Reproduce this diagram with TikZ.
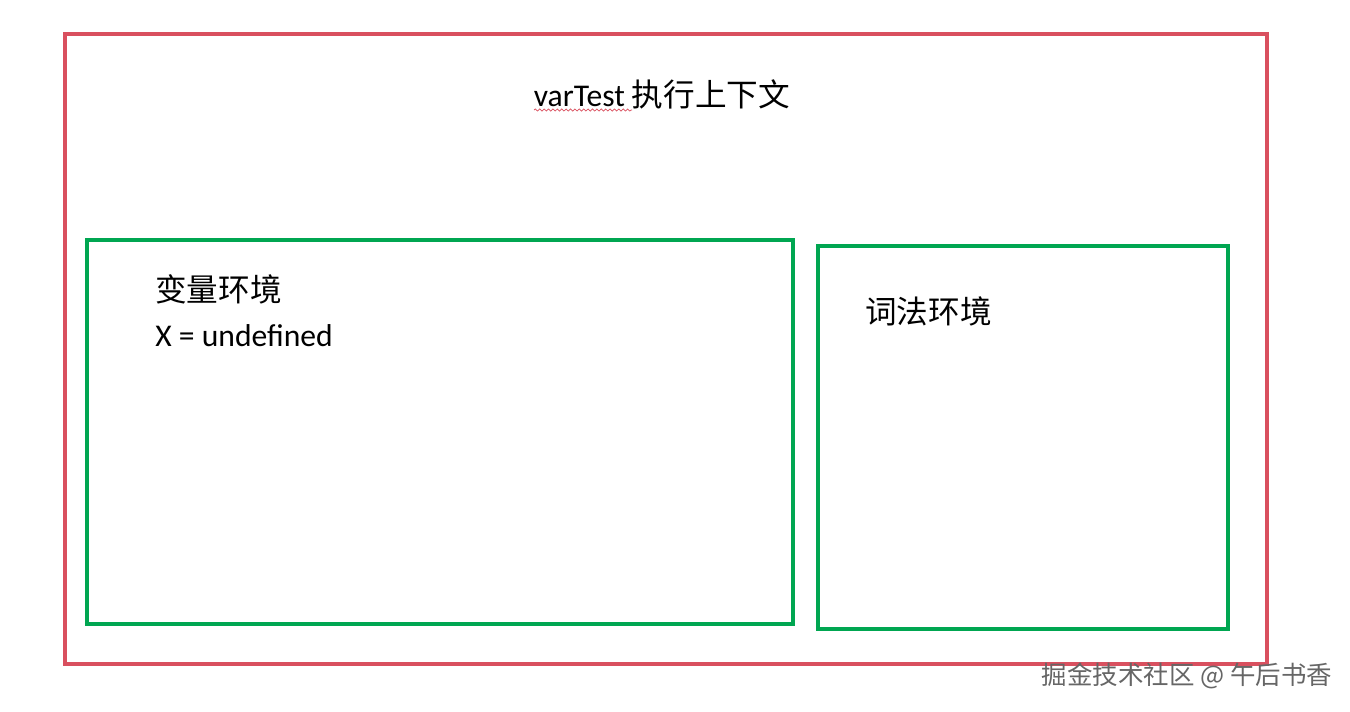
\documentclass[tikz,border=0pt]{standalone}
\usepackage{fontspec}
\setmainfont{Carlito}
\newfontfamily\cjk{Noto Sans CJK SC}
\usetikzlibrary{decorations.pathmorphing}
\definecolor{ctxred}{HTML}{D9505F}
\definecolor{envgreen}{HTML}{00A651}
\begin{document}
\begin{tikzpicture}[x=0.02cm,y=-0.02cm,
	ctxbox/.style={draw=ctxred,line width=2pt},
	envbox/.style={draw=envgreen,line width=2pt},
	label/.style={inner sep=0pt,font=\fontsize{18}{21}\selectfont}]
	\useasboundingbox (0,0) rectangle (1350,711);
	\draw[ctxbox] (65,34) rectangle (1267,664);
	\draw[envbox] (87,240) rectangle (793,624);
	\draw[envbox] (818,246) rectangle (1228,629);
	\node[label] (title) at (662,94) {varTest {\cjk 执行上下文}};
	\draw[ctxred,line width=0.4pt,decorate,decoration={snake,amplitude=0.6pt,segment length=2.5pt}]
		(534,110) -- (632,110);
	\node[label,anchor=west] (varenv) at (155,289) {\cjk 变量环境};
	\node[label,anchor=base west] (xval) at (155,346) {X = undefined};
	\node[label,anchor=west] (lexenv) at (865,311) {\cjk 词法环境};
	\node[inner sep=0pt,text=black!60,font=\cjk\fontsize{14.5}{16}\selectfont] (mark) at (1187,676) {掘金技术社区 @ 午后书香};
\end{tikzpicture}
\end{document}
